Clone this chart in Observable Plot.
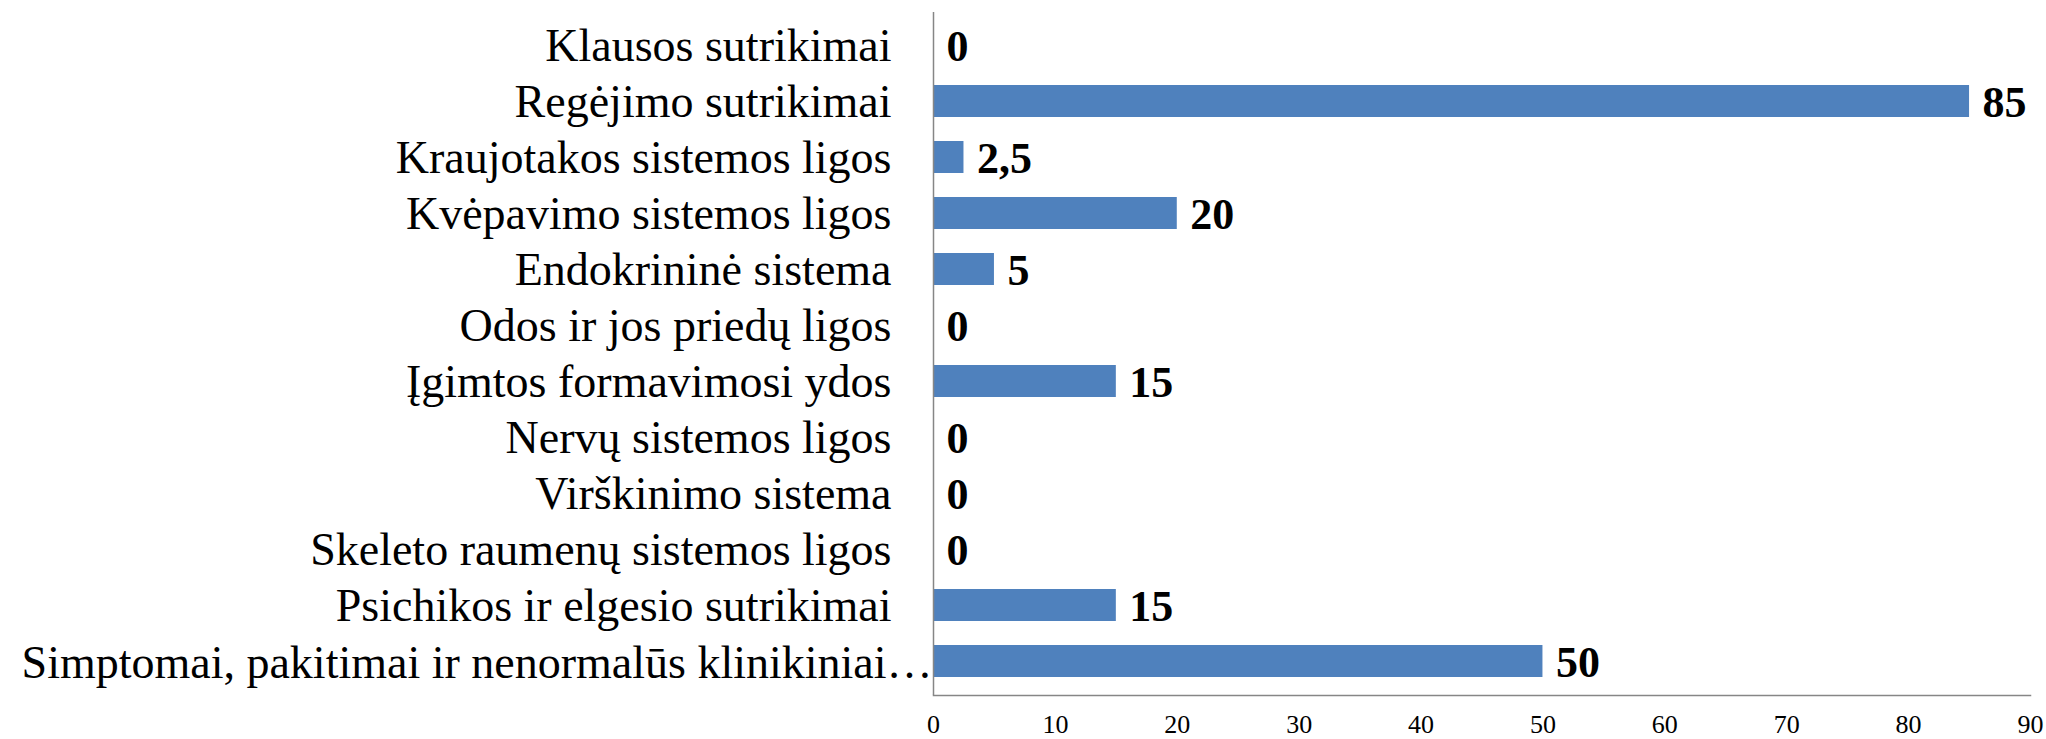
<!DOCTYPE html>
<html>
<head>
<meta charset="utf-8">
<script src="https://cdn.jsdelivr.net/npm/d3@7"></script>
<script src="https://cdn.jsdelivr.net/npm/@observablehq/plot@0.6"></script>
<style>
  html, body { margin: 0; padding: 0; background: #fff; }
  #chart svg { display: block; }
</style>
</head>
<body>
<div id="chart"></div>
<script>
const categories = [
  "Klausos sutrikimai",
  "Regėjimo sutrikimai",
  "Kraujotakos sistemos ligos",
  "Kvėpavimo sistemos ligos",
  "Endokrininė sistema",
  "Odos ir jos priedų ligos",
  "Įgimtos formavimosi ydos",
  "Nervų sistemos ligos",
  "Virškinimo sistema",
  "Skeleto raumenų sistemos ligos",
  "Psichikos ir elgesio sutrikimai",
  "Simptomai, pakitimai ir nenormalūs klinikiniai…"
];
const values = [0, 85, 2.5, 20, 5, 0, 15, 0, 0, 0, 15, 50];
const xTicks = [0, 10, 20, 30, 40, 50, 60, 70, 80, 90];

const data = categories.map((c, i) => ({category: c, value: values[i], long: i === categories.length - 1}));
const fmt = v => String(v).replace(".", ",");
const font = "'Liberation Serif', 'Times New Roman', serif";

const chart = Plot.plot({
  width: 2046,
  height: 739,
  marginLeft: 933,
  marginRight: 16,
  marginTop: 12,
  marginBottom: 44,
  style: {fontFamily: font, background: "#fff", color: "#000"},
  x: {domain: [0, 90]},
  y: {domain: categories, paddingInner: 0.42, paddingOuter: 0.21},
  marks: [
    Plot.barX(data, {x: "value", y: "category", fill: "#4F81BD"}),
    Plot.ruleX([0], {stroke: "#868686", strokeWidth: 1.5}),
    Plot.frame({anchor: "bottom", stroke: "#868686", strokeWidth: 1.5}),
    Plot.axisX({ticks: xTicks, tickSize: 0, tickPadding: 19, fontSize: 26, tickFormat: d => d, label: null}),
    Plot.axisY({ticks: [], label: null, tickSize: 0}),
    Plot.text(data.filter(d => !d.long), {y: "category", text: "category", frameAnchor: "left", textAnchor: "end", dx: -42, dy: 1, fontSize: 46, fill: "#000"}),
    Plot.text(data.filter(d => d.long), {y: "category", text: "category", frameAnchor: "left", textAnchor: "end", dx: -1, dy: 2, fontSize: 46, fill: "#000"}),
    Plot.text(data, {x: "value", y: "category", text: d => fmt(d.value), textAnchor: "start", dx: 13, dy: 1, fontSize: 44, fontWeight: "bold", fill: "#000"})
  ]
});

document.getElementById("chart").appendChild(chart);
</script>
</body>
</html>
